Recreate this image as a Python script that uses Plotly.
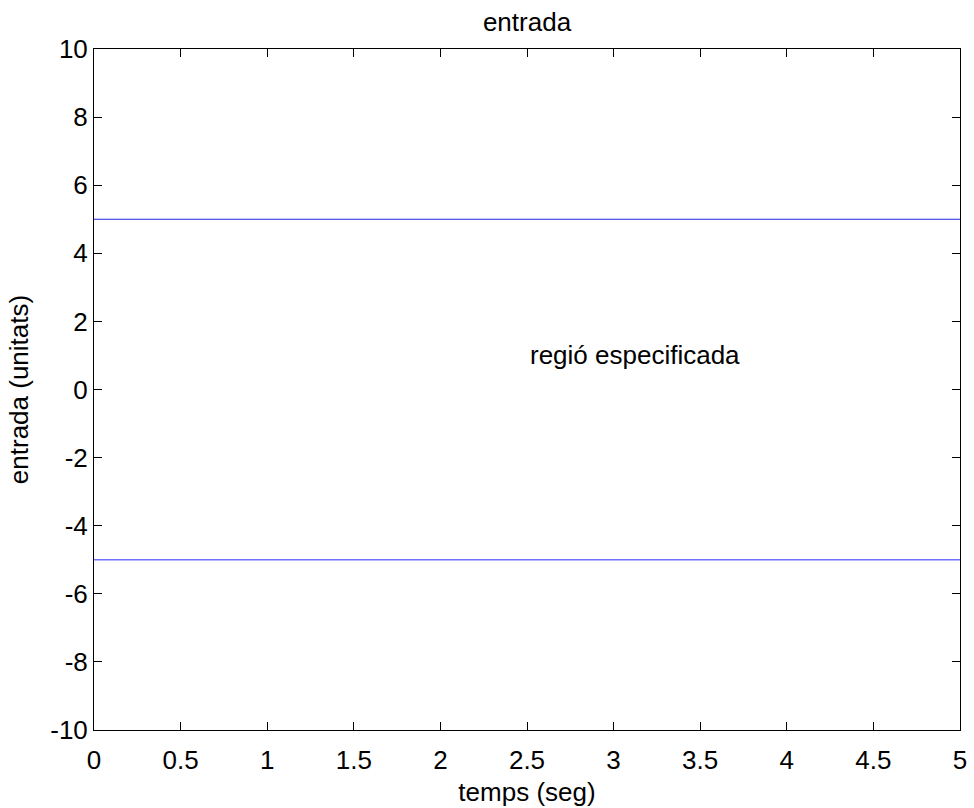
import plotly.graph_objects as go

t = [0, 5]
upper = [5, 5]
lower = [-5, -5]
x_ticks = [0, 0.5, 1, 1.5, 2, 2.5, 3, 3.5, 4, 4.5, 5]
y_ticks = [-10, -8, -6, -4, -2, 0, 2, 4, 6, 8, 10]
label_text = "regió especificada"
label_pos = (2.5, 1)

FS = 26

fig = go.Figure()
fig.add_trace(go.Scatter(x=t, y=upper, mode="lines", line=dict(color="#2222dd", width=1.2), showlegend=False))
fig.add_trace(go.Scatter(x=t, y=lower, mode="lines", line=dict(color="#7272ff", width=1.5), showlegend=False))

fig.add_annotation(x=label_pos[0], y=label_pos[1], text=label_text, showarrow=False,
                   xanchor="left", yanchor="middle", xshift=1, font=dict(size=FS, color="black"))

axis_common = dict(showgrid=False, zeroline=False, showline=True, linecolor="black", linewidth=1,
                   mirror="ticks", ticks="inside", ticklen=8, tickwidth=1, tickcolor="black",
                   tickfont=dict(size=FS, color="black"))

fig.update_xaxes(range=[0, 5], tickvals=x_ticks, ticktext=[f"{v:g}" for v in x_ticks],
                 ticklabelstandoff=7,
                 title=dict(text="temps (seg)", font=dict(size=FS, color="black"), standoff=8),
                 **axis_common)
fig.update_yaxes(range=[-10, 10], tickvals=y_ticks, ticktext=[f"{v:g}" for v in y_ticks],
                 title=dict(text="entrada (unitats)", font=dict(size=FS, color="black"), standoff=14),
                 **axis_common)

fig.update_layout(
    width=974, height=808,
    margin=dict(l=94, r=7, t=49, b=76),
    paper_bgcolor="white", plot_bgcolor="white",
    font=dict(family="Liberation Sans, Arial, sans-serif", size=FS, color="black"),
    title=dict(text="entrada", x=0.5, xref="paper", xanchor="center", y=1 - 22 / 808, yanchor="middle",
               font=dict(size=FS, color="black")),
)

fig.write_html("out.html", config={"displayModeBar": False},
               post_script="document.body.style.margin='0';document.body.style.overflow='hidden';")
